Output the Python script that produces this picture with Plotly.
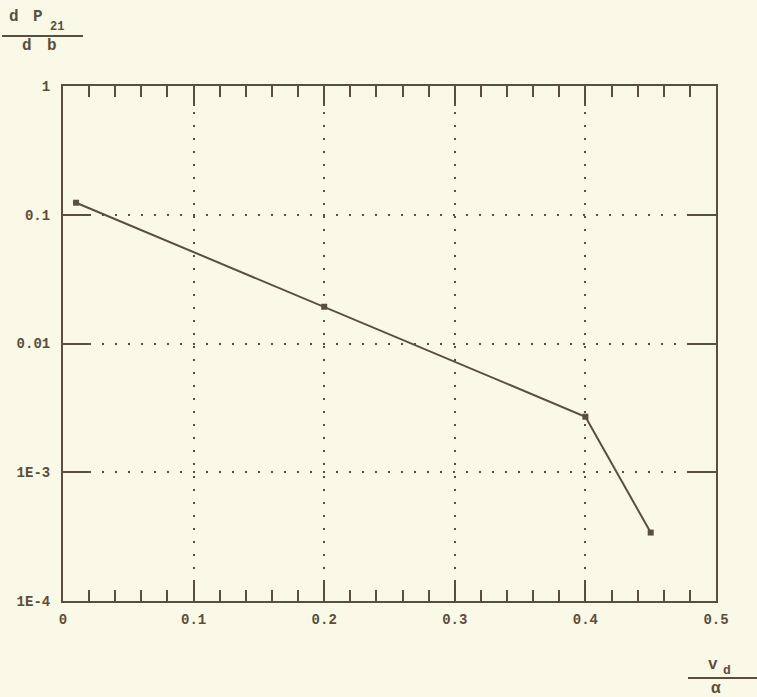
import plotly.graph_objects as go

# Data
x_vals = [0.01, 0.2, 0.4, 0.45]
y_vals = [0.124, 0.0193, 0.0027, 0.00034]

x_tickvals = [0, 0.1, 0.2, 0.3, 0.4, 0.5]
x_ticktext = ["0", "0.1", "0.2", "0.3", "0.4", "0.5"]
y_tickvals = [1e-4, 1e-3, 0.01, 0.1, 1]
y_ticktext = ["1E-4", "1E-3", "0.01", "0.1", "1"]

W, H = 757, 697
L, R, T, B = 63, 41, 86, 96
PW, PH = W - L - R, H - T - B

BG = "#faf8e6"
INK = "#5a4f3e"
FONT = "Liberation Mono"


def px(xp):
    return (xp - L) / PW


def py(yp):
    return (H - B - yp) / PH


fig = go.Figure()
fig.add_trace(go.Scatter(
    x=x_vals, y=y_vals, mode="lines+markers",
    line=dict(color=INK, width=2),
    marker=dict(symbol="square", size=6, color=INK),
    showlegend=False, cliponaxis=False,
))

fig.update_xaxes(
    range=[0, 0.5], tickvals=x_tickvals, ticktext=x_ticktext,
    showline=True, linecolor=INK, linewidth=2, mirror="ticks",
    ticks="inside", ticklen=20, tickwidth=2, tickcolor=INK,
    minor=dict(ticks="inside", ticklen=11, tickwidth=2, tickcolor=INK, dtick=0.02, showgrid=False),
    showgrid=True, gridcolor=INK, gridwidth=2, griddash="2px,11px",
    zeroline=False,
    tickfont=dict(family=FONT, size=14, color=INK, weight="bold"),
    ticklabelstandoff=4,
)
fig.update_yaxes(
    type="log", range=[-4, 0], tickvals=y_tickvals, ticktext=y_ticktext,
    showline=True, linecolor=INK, linewidth=2, mirror="ticks",
    ticks="inside", ticklen=27, tickwidth=2, tickcolor=INK,
    showgrid=True, gridcolor=INK, gridwidth=2, griddash="2px,11px",
    zeroline=False,
    tickfont=dict(family=FONT, size=14, color=INK, weight="bold"),
    ticklabelstandoff=8,
)

anns = []


def ann(text, xp, yp, size=15):
    anns.append(dict(text=text, x=px(xp), y=py(yp), xref="paper", yref="paper",
                     xanchor="center", yanchor="middle", showarrow=False,
                     font=dict(family=FONT, size=size, color=INK, weight="bold")))


# y-axis title (fraction dP21/db)
ann("d", 14, 17, size=16)
ann("P", 38, 17, size=16)
ann("21", 57, 27, size=12)
ann("d", 27, 46, size=16)
ann("b", 52, 46, size=16)
# x-axis title (fraction vd/alpha)
ann("v", 713, 665, size=16)
ann("d", 727, 670, size=13)
ann("α", 716, 689, size=16)

shapes = [
    dict(type="line", xref="paper", yref="paper", x0=px(2), x1=px(83), y0=py(36), y1=py(36),
         line=dict(color=INK, width=2)),
    dict(type="line", xref="paper", yref="paper", x0=px(688), x1=px(757), y0=py(678), y1=py(678),
         line=dict(color=INK, width=2)),
]

fig.update_layout(
    width=W, height=H,
    margin=dict(l=L, r=R, t=T, b=B),
    paper_bgcolor=BG, plot_bgcolor=BG,
    annotations=anns, shapes=shapes,
    showlegend=False,
)

fig.write_html(
    "out.html",
    config={"displayModeBar": False},
    post_script="document.body.style.margin='0';document.body.style.overflow='hidden';"
                "document.body.style.background='" + BG + "';",
)
